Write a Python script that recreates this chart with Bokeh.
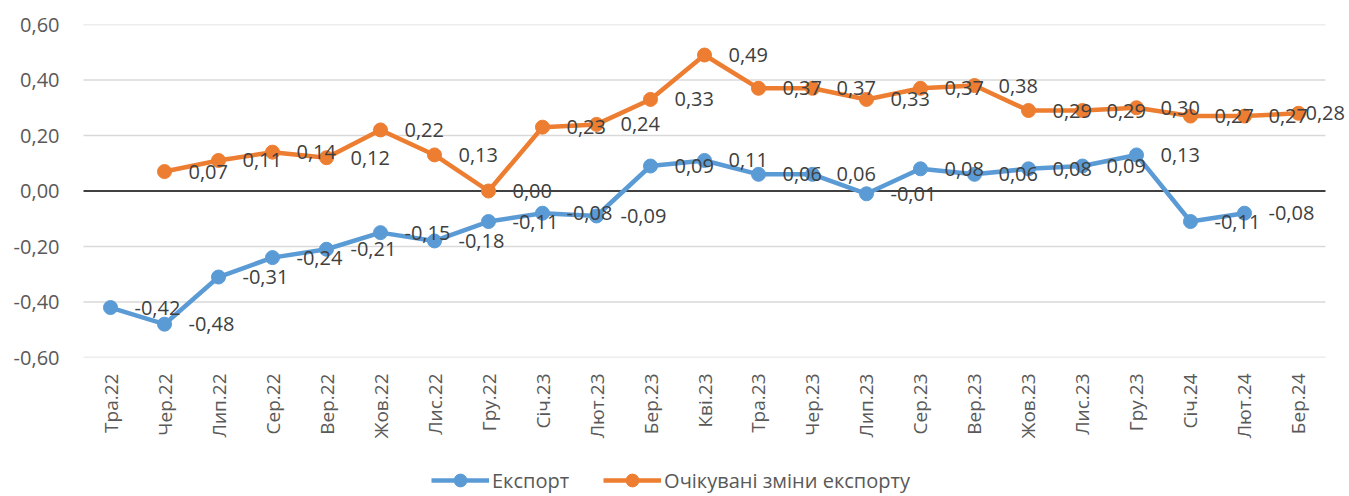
import math
from bokeh.plotting import figure
from bokeh.layouts import column
from bokeh.models import (ColumnDataSource, Legend, LegendItem, CustomJSTickFormatter,
                          FixedTicker, Range1d, FactorRange)
from bokeh.transform import dodge
from bokeh.core.properties import value
from bokeh.embed import file_html
from bokeh.resources import INLINE

categories = ["Тра.22", "Чер.22", "Лип.22", "Сер.22", "Вер.22", "Жов.22", "Лис.22", "Гру.22",
              "Січ.23", "Лют.23", "Бер.23", "Кві.23", "Тра.23", "Чер.23", "Лип.23", "Сер.23",
              "Вер.23", "Жов.23", "Лис.23", "Гру.23", "Січ.24", "Лют.24", "Бер.24"]

export_cats = categories[0:22]
export_vals = [-0.42, -0.48, -0.31, -0.24, -0.21, -0.15, -0.18, -0.11, -0.08, -0.09, 0.09,
               0.11, 0.06, 0.06, -0.01, 0.08, 0.06, 0.08, 0.09, 0.13, -0.11, -0.08]

expect_cats = categories[1:23]
expect_vals = [0.07, 0.11, 0.14, 0.12, 0.22, 0.13, 0.00, 0.23, 0.24, 0.33, 0.49,
               0.37, 0.37, 0.33, 0.37, 0.38, 0.29, 0.29, 0.30, 0.27, 0.27, 0.28]

y_ticks = [-0.6, -0.4, -0.2, 0.0, 0.2, 0.4, 0.6]

BLUE = "#5B9BD5"
ORANGE = "#ED7D31"
FONT = "Open Sans"


def fmt(v):
    return f"{v:.2f}".replace(".", ",")


def offsets(n, last=24):
    o = [24] * n
    o[-1] = last
    return o


src_exp = ColumnDataSource(dict(x=export_cats, y=export_vals,
                                lbl=[fmt(v) for v in export_vals],
                                xo=offsets(len(export_vals))))
src_ord = ColumnDataSource(dict(x=expect_cats, y=expect_vals,
                                lbl=[fmt(v) for v in expect_vals],
                                xo=offsets(len(expect_vals), 7)))

xr = FactorRange(*categories, range_padding=0.426, range_padding_units="absolute")
p = figure(width=1349, height=448, x_range=xr, y_range=Range1d(-0.6, 0.6),
           output_backend="svg", toolbar_location=None,
           min_border_left=60, min_border_right=1, min_border_top=24, min_border_bottom=91)
p.outline_line_color = None
p.background_fill_color = "white"
p.border_fill_color = "white"
p.xgrid.grid_line_color = None
p.ygrid.grid_line_color = None

p.yaxis.ticker = FixedTicker(ticks=y_ticks)
p.yaxis.formatter = CustomJSTickFormatter(code="return tick.toFixed(2).replace('.', ',');")
for ax in (p.xaxis[0], p.yaxis[0]):
    ax.axis_line_color = None
    ax.major_tick_line_color = None
    ax.minor_tick_line_color = None
    ax.major_tick_out = 0
    ax.minor_tick_out = 0
    ax.major_label_text_color = "#595959"
    ax.major_label_text_font = FONT
p.yaxis.major_label_text_font_size = "20px"
p.yaxis.major_label_standoff = 1
p.xaxis.major_label_text_font_size = "19px"
p.xaxis.major_label_orientation = math.pi / 2
p.xaxis.major_label_standoff = 16

# horizontal grid lines spanning the category band only
grid_vals = [t for t in y_ticks if t != 0.0]
grid_src = ColumnDataSource(dict(x0=[categories[0]] * len(grid_vals),
                                 x1=[categories[-1]] * len(grid_vals), y=grid_vals))
p.segment(x0=dodge("x0", -0.5, range=xr), x1=dodge("x1", 0.5, range=xr), y0="y", y1="y",
          source=grid_src, line_color="#d9d9d9", line_width=1.5)
zero_src = ColumnDataSource(dict(x0=[categories[0]], x1=[categories[-1]], y=[0.0]))
p.segment(x0=dodge("x0", -0.5, range=xr), x1=dodge("x1", 0.5, range=xr), y0="y", y1="y",
          source=zero_src, line_color="black", line_width=1.6)

p.line("x", "y", source=src_exp, line_color=BLUE, line_width=4.5)
p.scatter("x", "y", source=src_exp, size=14, fill_color=BLUE, line_color=BLUE)
p.line("x", "y", source=src_ord, line_color=ORANGE, line_width=4.5)
p.scatter("x", "y", source=src_ord, size=14, fill_color=ORANGE, line_color=ORANGE)

for src in (src_exp, src_ord):
    p.text("x", "y", text="lbl", source=src, x_offset="xo", text_align="left",
           text_baseline="middle", text_font=value(FONT), text_font_size="20px",
           text_color="#404040")

# legend strip: proxy renderers share the series data but sit outside the visible y range
lg = figure(width=1349, height=48, x_range=FactorRange(*categories), y_range=Range1d(5, 6),
            output_backend="svg", toolbar_location=None,
            x_axis_location=None, y_axis_location=None,
            min_border_left=0, min_border_right=0, min_border_top=0, min_border_bottom=0)
lg.grid.visible = False
lg.outline_line_color = None
e1 = lg.line("x", "y", source=src_exp, line_color=BLUE, line_width=4.5)
m1 = lg.scatter("x", "y", source=src_exp, size=14, fill_color=BLUE, line_color=BLUE)
e2 = lg.line("x", "y", source=src_ord, line_color=ORANGE, line_width=4.5)
m2 = lg.scatter("x", "y", source=src_ord, size=14, fill_color=ORANGE, line_color=ORANGE)
legend = Legend(items=[LegendItem(label="Експорт", renderers=[e1, m1]),
                       LegendItem(label="Очікувані зміни експорту", renderers=[e2, m2])],
                orientation="horizontal", location=(371, 0),
                label_text_font=FONT, label_text_font_size="20px", label_text_color="#595959",
                label_standoff=3, glyph_width=58, glyph_height=32, spacing=34,
                padding=0, margin=0, border_line_color=None, background_fill_alpha=0)
lg.add_layout(legend, "center")

layout = column(p, lg, spacing=0)
open("out.html", "w").write(file_html(layout, INLINE))
